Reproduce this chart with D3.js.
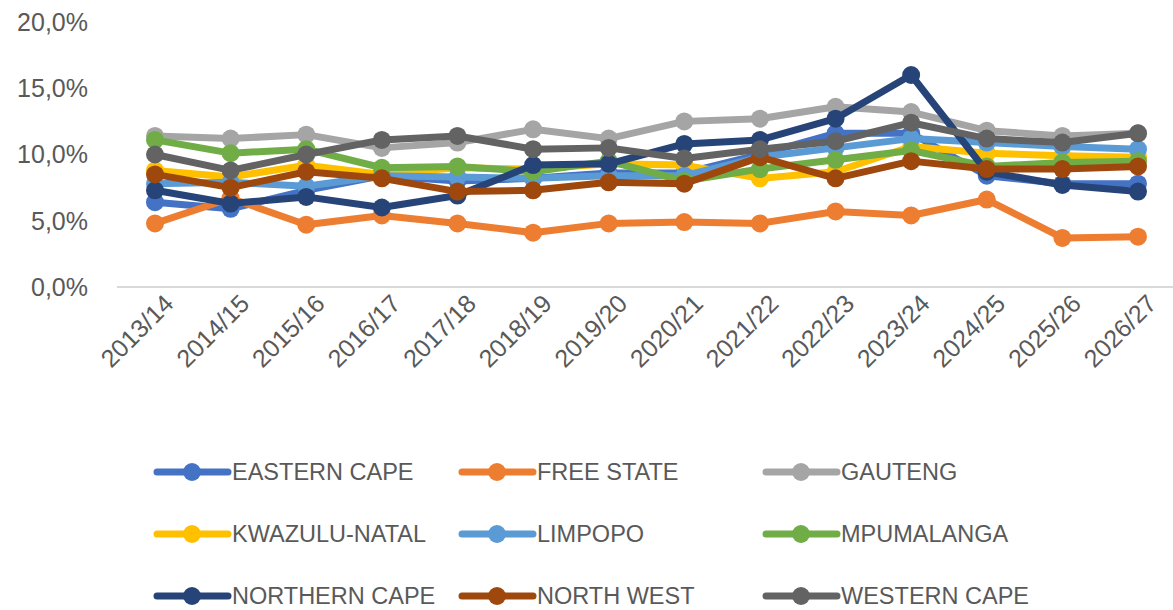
<!DOCTYPE html>
<html><head><meta charset="utf-8">
<script src="https://cdn.jsdelivr.net/npm/d3@7"></script>
<style>body{margin:0;background:#fff}svg{display:block}text{font-family:"Liberation Sans Narrow","Liberation Sans",Arial,sans-serif;fill:#595959}</style>
</head><body><svg id="c" width="1173" height="610"></svg>
<script>
const years=["2013/14","2014/15","2015/16","2016/17","2017/18","2018/19","2019/20","2020/21","2021/22","2022/23","2023/24","2024/25","2025/26","2026/27"];
const yTicks=[0,5,10,15,20];
const seriesNames=["EASTERN CAPE","FREE STATE","GAUTENG","KWAZULU-NATAL","LIMPOPO","MPUMALANGA","NORTHERN CAPE","NORTH WEST","WESTERN CAPE"];
const seriesColors=["#4472C4","#ED7D31","#A5A5A5","#FFC000","#5B9BD5","#70AD47","#264478","#9E480E","#636363"];
const easternCape=[6.4,5.9,7.3,8.4,8.0,8.2,8.6,8.6,10.0,11.6,11.6,8.4,7.8,7.8];
const freeState=[4.8,6.7,4.7,5.4,4.8,4.1,4.8,4.9,4.8,5.7,5.4,6.6,3.7,3.8];
const gauteng=[11.4,11.2,11.5,10.5,10.9,11.9,11.2,12.5,12.7,13.6,13.2,11.8,11.4,11.6];
const kwazuluNatal=[8.8,8.3,9.2,8.5,9.0,8.9,9.3,9.2,8.2,8.7,10.6,10.1,9.9,9.8];
const limpopo=[7.8,7.9,7.6,8.4,8.3,8.2,8.4,8.4,9.8,10.5,11.2,10.9,10.6,10.4];
const mpumalanga=[11.1,10.1,10.4,9.0,9.1,8.7,9.5,8.0,8.9,9.6,10.3,9.1,9.4,9.5];
const northernCape=[7.3,6.3,6.8,6.0,6.9,9.2,9.3,10.8,11.1,12.7,16.0,8.7,7.7,7.2];
const northWest=[8.5,7.5,8.7,8.2,7.2,7.3,7.9,7.8,9.8,8.2,9.5,8.9,8.9,9.1];
const westernCape=[10.0,8.8,10.0,11.1,11.4,10.4,10.5,9.7,10.4,11.0,12.4,11.2,10.9,11.6];
const seriesValues=[easternCape,freeState,gauteng,kwazuluNatal,limpopo,mpumalanga,northernCape,northWest,westernCape];

const svg=d3.select("#c");
const x=d3.scalePoint().domain(years).range([155,1138]);
const y=d3.scaleLinear().domain([0,20]).range([287,22]);

svg.append("line").attr("x1",117).attr("x2",1173).attr("y1",y(0)).attr("y2",y(0))
  .attr("stroke","#d9d9d9").attr("stroke-width",2);

const fmt=v=>d3.format(".1f")(v).replace(".",",")+"%";
svg.append("g").selectAll("text").data(yTicks).join("text")
  .attr("x",88).attr("y",d=>y(d)).attr("dy","0.35em").attr("text-anchor","end")
  .attr("font-size",25).text(fmt);

svg.append("g").selectAll("text").data(years).join("text")
  .attr("transform",d=>`translate(${x(d)+14},${299}) rotate(-45)`)
  .attr("text-anchor","end").attr("dy","0.35em").attr("font-size",25).text(d=>d);

const line=d3.line().x((d,i)=>x(years[i])).y(d=>y(d));
seriesValues.forEach((vals,si)=>{
  const g=svg.append("g");
  g.append("path").attr("d",line(vals)).attr("fill","none")
    .attr("stroke",seriesColors[si]).attr("stroke-width",7).attr("stroke-linejoin","round");
  g.selectAll("circle").data(vals).join("circle")
    .attr("cx",(d,i)=>x(years[i])).attr("cy",d=>y(d)).attr("r",9).attr("fill",seriesColors[si]);
});

const colX=[157,462,766];
const rowY=[472,534,596];
seriesNames.forEach((n,i)=>{
  const cx=colX[i%3], cy=rowY[Math.floor(i/3)];
  const g=svg.append("g");
  g.append("line").attr("x1",cx).attr("x2",cx+71).attr("y1",cy).attr("y2",cy)
    .attr("stroke",seriesColors[i]).attr("stroke-width",7).attr("stroke-linecap","round");
  g.append("circle").attr("cx",cx+35).attr("cy",cy).attr("r",9).attr("fill",seriesColors[i]);
  g.append("text").attr("x",cx+75).attr("y",cy).attr("dy","0.35em").attr("font-size",23.5).text(n);
});
</script></body></html>
